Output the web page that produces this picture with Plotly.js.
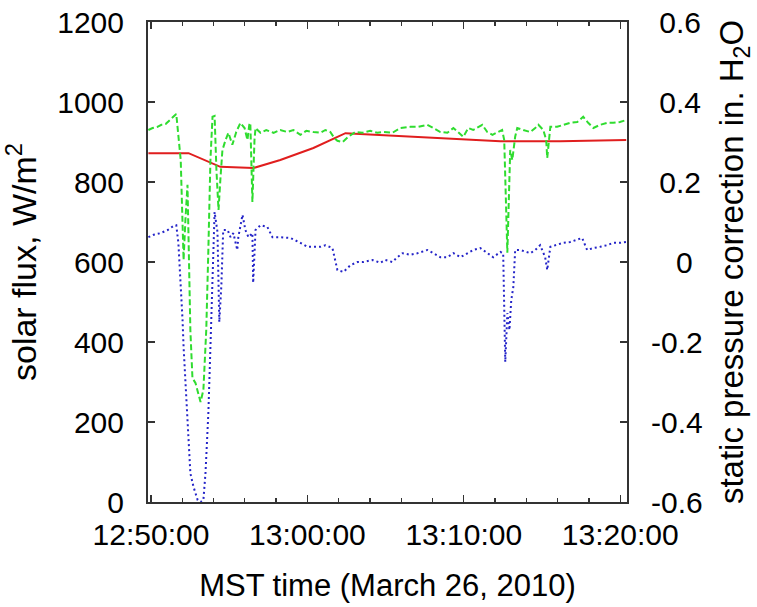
<!DOCTYPE html>
<html>
<head>
<meta charset="utf-8">
<script src="https://cdn.plot.ly/plotly-3.0.1.min.js"></script>
<style>
html,body{margin:0;padding:0;background:#fff;}
#chart{width:757px;height:607px;}
</style>
</head>
<body>
<div id="chart"></div>
<script>
// time axis: seconds after 12:50:00 MST, March 26, 2010
var xTickVals = [0, 600, 1200, 1800];
var xTickText = ["12:50:00", "13:00:00", "13:10:00", "13:20:00"];

var y2TickVals = [-0.6, -0.4, -0.2, 0, 0.2, 0.4, 0.6];
var y2TickText = ["-0.6", "-0.4", "-0.2", "\u2007\u20080", "\u20080.2", "\u20080.4", "\u20080.6"];

// green dashed: static pressure correction (in. H2O), right axis
var greenSec = [-10, 6, 25, 40, 56, 71, 86, 97, 114, 125,
  132, 140, 151, 159, 171, 182, 190, 201, 212, 220,
  228, 236, 244, 251, 259, 266, 274, 286, 297, 312,
  327, 343, 359, 370, 377, 381, 389, 397, 401, 420,
  442, 470, 496, 523, 546, 573, 596, 623, 650, 669,
  688, 703, 715, 735, 757, 784, 811, 841, 868, 891,
  926, 957, 995, 1026, 1060, 1083, 1110, 1137, 1160, 1178,
  1198, 1217, 1236, 1271, 1290, 1310, 1328, 1347, 1355, 1367,
  1378, 1386, 1397, 1405, 1428, 1455, 1474, 1486, 1505, 1516,
  1520, 1528, 1532, 1558, 1582, 1608, 1635, 1658, 1677, 1697,
  1723, 1750, 1773, 1799, 1823];
var greenVal = [0.330, 0.335, 0.338, 0.343, 0.345, 0.355, 0.363, 0.370, 0.255, 0.005,
  0.105, 0.193, -0.170, -0.290, -0.303, -0.333, -0.350, -0.320, -0.170, 0.030,
  0.255, 0.363, 0.365, 0.230, 0.130, 0.205, 0.280, 0.305, 0.323, 0.293,
  0.325, 0.348, 0.335, 0.305, 0.343, 0.348, 0.150, 0.305, 0.335, 0.323,
  0.330, 0.323, 0.330, 0.325, 0.330, 0.318, 0.328, 0.325, 0.323, 0.330,
  0.325, 0.310, 0.303, 0.300, 0.313, 0.325, 0.323, 0.328, 0.323, 0.325,
  0.323, 0.335, 0.338, 0.338, 0.343, 0.335, 0.325, 0.323, 0.335, 0.325,
  0.313, 0.335, 0.330, 0.343, 0.325, 0.318, 0.323, 0.330, 0.305, 0.023,
  0.280, 0.255, 0.313, 0.335, 0.330, 0.325, 0.335, 0.343, 0.330, 0.305,
  0.260, 0.318, 0.338, 0.338, 0.343, 0.348, 0.350, 0.363, 0.348, 0.335,
  0.343, 0.348, 0.348, 0.350, 0.355];

// blue dotted: solar flux (W/m^2), left axis
var blueSec = [-10, 10, 36, 64, 86, 97, 105, 114, 121, 125,
  140, 151, 163, 179, 190, 201, 209, 220, 228, 236,
  244, 255, 262, 270, 277, 294, 305, 316, 331, 335,
  351, 362, 374, 389, 392, 401, 420, 446, 466, 496,
  535, 573, 600, 623, 650, 669, 696, 715, 738, 765,
  792, 815, 850, 880, 899, 926, 945, 965, 995, 1022,
  1060, 1083, 1110, 1137, 1160, 1187, 1213, 1236, 1263, 1290,
  1313, 1340, 1351, 1359, 1367, 1375, 1382, 1390, 1397, 1417,
  1436, 1455, 1474, 1493, 1512, 1520, 1532, 1551, 1582, 1608,
  1635, 1654, 1673, 1697, 1723, 1750, 1773, 1799, 1823];
var blueVal = [662, 668, 672, 680, 690, 692, 648, 548, 455, 388,
  222, 72, 38, 5, 0, 5, 72, 222, 388, 538,
  725, 675, 450, 542, 680, 680, 662, 672, 630, 662,
  718, 680, 662, 672, 548, 680, 692, 688, 662, 662,
  660, 648, 638, 638, 638, 642, 635, 580, 575, 592,
  600, 600, 605, 598, 605, 600, 612, 622, 618, 622,
  630, 622, 612, 612, 622, 612, 622, 630, 635, 622,
  612, 625, 622, 350, 472, 430, 505, 538, 630, 630,
  625, 622, 630, 642, 612, 580, 638, 642, 648, 650,
  655, 660, 630, 635, 638, 642, 648, 648, 650];

// red solid, left axis
var redSec = [-10, 144, 266, 393, 496, 623, 746, 957, 1198, 1340, 1570, 1823];
var redVal = [872, 872, 838, 835, 855, 885, 922, 915, 908, 902, 902, 905];

var FONT = "Liberation Sans, Arial, Helvetica, sans-serif";

var traces = [
  {x: redSec, y: redVal, type: "scatter", mode: "lines", yaxis: "y",
   line: {color: "#e01e1e", width: 2}, hoverinfo: "skip"},
  {x: greenSec, y: greenVal, type: "scatter", mode: "lines", yaxis: "y2",
   line: {color: "#2fdc2f", width: 2, dash: "6px,3px"}, hoverinfo: "skip"},
  {x: blueSec, y: blueVal, type: "scatter", mode: "lines", yaxis: "y",
   line: {color: "#2424c8", width: 2, dash: "2px,3px"}, hoverinfo: "skip"}
];

var layout = {
  width: 757, height: 607,
  margin: {l: 148, r: 130, t: 22, b: 105},
  paper_bgcolor: "#fff", plot_bgcolor: "#fff",
  showlegend: false,
  font: {family: FONT, size: 30, color: "#000"},
  xaxis: {
    range: [-11.5, 1826],
    tickmode: "array", tickvals: xTickVals, ticktext: xTickText,
    ticks: "inside", ticklen: 7, tickwidth: 1.3, tickcolor: "#333",
    minor: {tickmode: "linear", tick0: 0, dtick: 120, ticks: "inside", ticklen: 4, tickwidth: 1.3, tickcolor: "#333", showgrid: false},
    showline: true, linecolor: "#333", linewidth: 2, mirror: "ticks",
    showgrid: false, zeroline: false,
    ticklabelstandoff: 5,
    tickfont: {family: FONT, size: 30, color: "#000"},
    title: {text: "MST time (March 26, 2010)", font: {family: FONT, size: 31, color: "#000"}, standoff: 24}
  },
  yaxis: {
    range: [0, 1200], tickmode: "linear", tick0: 0, dtick: 200,
    ticks: "inside", ticklen: 7, tickwidth: 1.3, tickcolor: "#333",
    showline: true, linecolor: "#333", linewidth: 2, mirror: false,
    showgrid: false, zeroline: false,
    ticklabelstandoff: 16,
    tickfont: {family: FONT, size: 30, color: "#000"},
    title: {text: "solar flux, W/m<sup>2</sup>", font: {family: FONT, size: 34, color: "#000"}, standoff: 10}
  },
  yaxis2: {
    overlaying: "y", side: "right",
    range: [-0.6, 0.6], tickmode: "array", tickvals: y2TickVals, ticktext: y2TickText,
    ticks: "inside", ticklen: 7, tickwidth: 1.3, tickcolor: "#333",
    showline: true, linecolor: "#333", linewidth: 2,
    showgrid: false, zeroline: false,
    ticklabelstandoff: 16,
    tickfont: {family: FONT, size: 30, color: "#000"},
    title: {text: "static pressure correction in. H<sub>2</sub>O", font: {family: FONT, size: 33, color: "#000"}, standoff: 18}
  }
};

Plotly.newPlot("chart", traces, layout, {staticPlot: true, displayModeBar: false});
</script>
</body>
</html>
